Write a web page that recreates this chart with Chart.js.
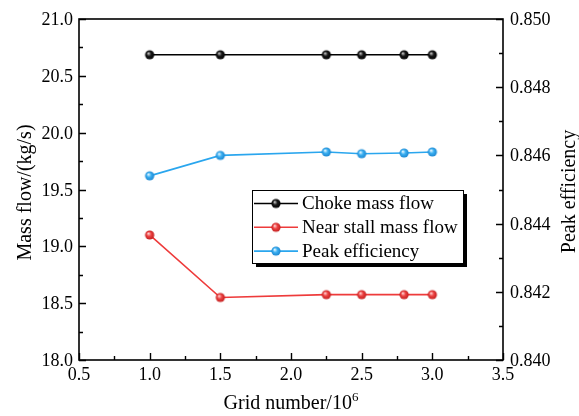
<!DOCTYPE html>
<html>
<head>
<meta charset="utf-8">
<script src="https://cdn.jsdelivr.net/npm/chart.js@4/dist/chart.umd.min.js"></script>
<style>
  html, body { margin: 0; padding: 0; background: #fff; }
  #wrap { width: 579px; height: 416px; }
</style>
</head>
<body>
<div id="wrap"><canvas id="c" width="579" height="416"></canvas></div>
<script>
// Grid independence study: mass flow limits and peak efficiency vs. grid size
const gridNumbers = [1.0, 1.5, 2.25, 2.5, 2.8, 3.0];
const chokeMassFlow = [20.685, 20.685, 20.685, 20.685, 20.685, 20.685];
const nearStallMassFlow = [19.10, 18.55, 18.575, 18.575, 18.575, 18.575];
const peakEfficiency = [0.8454, 0.8460, 0.8461, 0.84605, 0.84607, 0.8461];

const seriesLabels = ['Choke mass flow', 'Near stall mass flow', 'Peak efficiency'];

const xTicks = [0.5, 1.0, 1.5, 2.0, 2.5, 3.0, 3.5];
const massFlowTicks = [18.0, 18.5, 19.0, 19.5, 20.0, 20.5, 21.0];
const efficiencyTicks = [0.840, 0.842, 0.844, 0.846, 0.848, 0.850];

const SERIF = "'Liberation Serif', serif";

// Shaded sphere marker drawn on a small canvas
function sphere(base, light, dark) {
  const r = 4.6, s = 12;
  const cv = document.createElement('canvas');
  cv.width = s; cv.height = s;
  const g = cv.getContext('2d');
  const grad = g.createRadialGradient(s / 2 - 1.4, s / 2 - 1.6, 0.3, s / 2, s / 2, r);
  grad.addColorStop(0, light);
  grad.addColorStop(0.45, base);
  grad.addColorStop(1, dark);
  g.fillStyle = grad;
  g.beginPath();
  g.arc(s / 2, s / 2, r, 0, Math.PI * 2);
  g.fill();
  return cv;
}

const markers = [
  sphere('#1a1a1a', '#c8c8c8', '#000000'),
  sphere('#ee4444', '#ffd6d6', '#c21e1e'),
  sphere('#3cb0f2', '#e8f8ff', '#1a86d0')
];
const lineColors = ['#000000', '#ee3b3b', '#2aa6ee'];

function pairs(xs, ys) { return xs.map((x, i) => ({ x: x, y: ys[i] })); }

const frameAndDecor = {
  id: 'frameAndDecor',
  afterDraw(chart) {
    const ctx = chart.ctx;
    const a = chart.chartArea;
    const sx = chart.scales.x, sy = chart.scales.y, sy1 = chart.scales.y1;
    ctx.save();
    ctx.strokeStyle = '#000';
    ctx.lineWidth = 1.6;
    ctx.strokeRect(a.left, a.top, a.right - a.left, a.bottom - a.top);

    // inward major / minor ticks
    ctx.lineWidth = 1.4;
    ctx.beginPath();
    for (let v = 0.5; v <= 3.5001; v += 0.25) {
      const p = Math.round(sx.getPixelForValue(v)) + 0.5;
      const major = Math.abs(v * 2 - Math.round(v * 2)) < 1e-6;
      const len = major ? 7 : 4;
      ctx.moveTo(p, a.bottom);
      ctx.lineTo(p, a.bottom - len);
    }
    for (let v = 18.0; v <= 21.0001; v += 0.25) {
      const p = Math.round(sy.getPixelForValue(v)) + 0.5;
      const major = Math.abs(v * 2 - Math.round(v * 2)) < 1e-6;
      const len = major ? 7 : 4;
      ctx.moveTo(a.left, p);
      ctx.lineTo(a.left + len, p);
    }
    for (let k = 0; k <= 10; k++) {
      const v = 0.840 + k * 0.001;
      const p = Math.round(sy1.getPixelForValue(v)) + 0.5;
      const len = (k % 2 === 0) ? 7 : 4;
      ctx.moveTo(a.right, p);
      ctx.lineTo(a.right - len, p);
    }
    ctx.stroke();

    // tick labels, positioned by each scale
    ctx.fillStyle = '#000';
    ctx.font = '18px ' + SERIF;
    ctx.textBaseline = 'alphabetic';
    ctx.textAlign = 'center';
    sx.ticks.forEach(t => {
      ctx.fillText(Number(t.value).toFixed(1), sx.getPixelForValue(t.value), 380);
    });
    ctx.textAlign = 'right';
    sy.ticks.forEach(t => {
      ctx.fillText(Number(t.value).toFixed(1), a.left - 6, sy.getPixelForValue(t.value) + 6);
    });
    ctx.textAlign = 'left';
    sy1.ticks.forEach(t => {
      ctx.fillText(Number(t.value).toFixed(3), a.right + 7, sy1.getPixelForValue(t.value) + 6);
    });

    // axis titles
    ctx.font = '20px ' + SERIF;
    const xTitle = 'Grid number/10';
    const wMain = ctx.measureText(xTitle).width;
    ctx.font = '13px ' + SERIF;
    const wSup = ctx.measureText('6').width;
    const cx = (a.left + a.right) / 2;
    const startX = cx - (wMain + wSup) / 2;
    ctx.textAlign = 'left';
    ctx.font = '20px ' + SERIF;
    ctx.fillText(xTitle, startX, 409);
    ctx.font = '13px ' + SERIF;
    ctx.fillText('6', startX + wMain, 401);

    ctx.font = '20px ' + SERIF;
    ctx.textAlign = 'center';
    ctx.save();
    ctx.translate(31, (a.top + a.bottom) / 2 + 3);
    ctx.rotate(-Math.PI / 2);
    ctx.fillText('Mass flow/(kg/s)', 0, 0);
    ctx.restore();
    ctx.save();
    ctx.translate(575, (a.top + a.bottom) / 2 + 2);
    ctx.rotate(-Math.PI / 2);
    ctx.fillText('Peak efficiency', 0, 0);
    ctx.restore();

    // legend box with drop shadow
    const bx = 252, by = 190, bw = 211, bh = 73;
    ctx.fillStyle = '#000';
    ctx.fillRect(bx + 4, by + 4, bw, bh);
    ctx.fillStyle = '#fff';
    ctx.fillRect(bx, by, bw, bh);
    ctx.strokeStyle = '#000';
    ctx.lineWidth = 1;
    ctx.strokeRect(bx + 0.5, by + 0.5, bw, bh);
    ctx.font = '19px ' + SERIF;
    ctx.textAlign = 'left';
    ctx.textBaseline = 'middle';
    chart.data.datasets.forEach((ds, i) => {
      const yy = 203.5 + i * 23.8;
      ctx.strokeStyle = ds.borderColor;
      ctx.lineWidth = 1.6;
      ctx.beginPath();
      ctx.moveTo(bx + 2, yy);
      ctx.lineTo(bx + 46, yy);
      ctx.stroke();
      ctx.drawImage(ds.pointStyle, bx + 24 - 6, yy - 6);
      ctx.fillStyle = '#000';
      ctx.fillText(ds.label, bx + 50, yy + 1);
    });
    ctx.restore();
  }
};

function dataset(label, ys, idx, axis) {
  return {
    label: label,
    data: pairs(gridNumbers, ys),
    yAxisID: axis,
    borderColor: lineColors[idx],
    borderWidth: 1.6,
    pointStyle: markers[idx],
    pointRadius: 5,
    pointHoverRadius: 5,
    fill: false,
    tension: 0
  };
}

new Chart(document.getElementById('c'), {
  type: 'line',
  data: {
    datasets: [
      dataset(seriesLabels[0], chokeMassFlow, 0, 'y'),
      dataset(seriesLabels[1], nearStallMassFlow, 1, 'y'),
      dataset(seriesLabels[2], peakEfficiency, 2, 'y1')
    ]
  },
  options: {
    responsive: false,
    animation: false,
    events: [],
    layout: { padding: { top: 19, left: 0, right: 0, bottom: 0 } },
    plugins: { legend: { display: false }, tooltip: { enabled: false } },
    scales: {
      x: {
        type: 'linear', min: 0.5, max: 3.5,
        afterBuildTicks: s => { s.ticks = xTicks.map(v => ({ value: v })); },
        afterFit: s => { s.height = 56; },
        grid: { display: false, drawTicks: false },
        border: { display: false },
        ticks: { display: false }
      },
      y: {
        type: 'linear', position: 'left', min: 18.0, max: 21.0,
        afterBuildTicks: s => { s.ticks = massFlowTicks.map(v => ({ value: v })); },
        afterFit: s => { s.width = 79; },
        grid: { display: false, drawTicks: false },
        border: { display: false },
        ticks: { display: false }
      },
      y1: {
        type: 'linear', position: 'right', min: 0.840, max: 0.850,
        afterBuildTicks: s => { s.ticks = efficiencyTicks.map(v => ({ value: v })); },
        afterFit: s => { s.width = 76; },
        grid: { display: false, drawTicks: false },
        border: { display: false },
        ticks: { display: false }
      }
    }
  },
  plugins: [frameAndDecor]
});
</script>
</body>
</html>
